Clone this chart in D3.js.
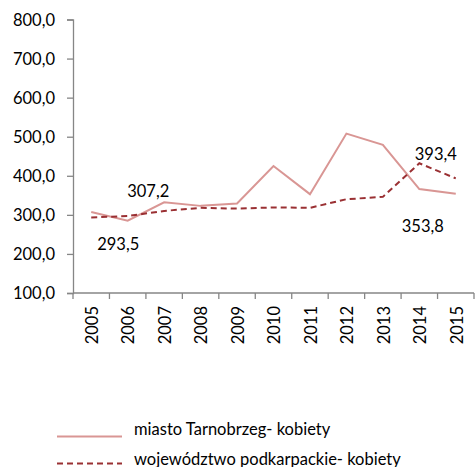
<!DOCTYPE html>
<html>
<head>
<meta charset="utf-8">
<script src="https://cdn.jsdelivr.net/npm/d3@7"></script>
<style>
  html, body { margin: 0; padding: 0; background: #fff; }
  svg { display: block; }
  text { font-family: Lato, "Liberation Sans", sans-serif; fill: #000; }
</style>
</head>
<body>
<svg id="chart" width="475" height="467"></svg>
<script>
// Years on the category axis
const years = ["2005","2006","2007","2008","2009","2010","2011","2012","2013","2014","2015"];
// Tarnobrzeg city, women
const tarnobrzeg = [307.2, 285, 332, 323, 329, 425, 353, 508, 479, 366, 353.8];
// Podkarpackie voivodeship, women
const podkarpackie = [293.5, 297, 310, 318, 316, 319, 318, 340, 346, 432, 393.4];
// Y axis tick values
const yTicks = [100, 200, 300, 400, 500, 600, 700, 800];

const seriesNames = ["miasto Tarnobrzeg- kobiety", "województwo podkarpackie- kobiety"];

const svg = d3.select("#chart");
const plotLeft = 73, plotRight = 474, plotTop = 19.5, plotBottom = 293;
const fontSize = "16.5px";

const x = d3.scaleBand().domain(years).range([plotLeft, plotRight]);
const y = d3.scaleLinear().domain([100, 800]).range([plotBottom, plotTop]);
const fmt = v => d3.format(".1f")(v).replace(".", ",");
const axisColor = "#868686";

// Y axis
const yAxis = svg.append("g").attr("transform", `translate(${plotLeft},0)`)
  .call(d3.axisLeft(y).tickValues(yTicks).tickSize(6).tickFormat(fmt));
yAxis.select(".domain").attr("stroke", axisColor).attr("stroke-width", 1.3);
yAxis.selectAll(".tick line").attr("stroke", axisColor).attr("stroke-width", 1.3);
yAxis.selectAll(".tick text")
  .attr("x", -18).attr("dy", "0.36em")
  .style("font-size", fontSize).style("font-family", "Lato, sans-serif").attr("fill", "#000");

// X axis with ticks on band edges
const xAxisG = svg.append("g").attr("transform", `translate(0,${plotBottom})`);
xAxisG.append("line").attr("x1", plotLeft).attr("x2", plotRight).attr("y1", 0).attr("y2", 0)
  .attr("stroke", axisColor).attr("stroke-width", 1.3);
const edges = years.map(d => x(d)).concat([plotRight]);
xAxisG.selectAll("line.tk").data(edges).join("line").attr("class", "tk")
  .attr("x1", d => d).attr("x2", d => d).attr("y1", 0).attr("y2", 6)
  .attr("stroke", axisColor).attr("stroke-width", 1.3);
xAxisG.selectAll("text.yr").data(years).join("text").attr("class", "yr")
  .attr("transform", d => `translate(${x(d) + x.bandwidth() / 2 + 1},13) rotate(-90)`)
  .attr("text-anchor", "end").attr("dy", "0.35em")
  .style("font-size", fontSize)
  .text(d => d);

// Lines
const line = d3.line().x((d, i) => x(years[i]) + x.bandwidth() / 2).y(d => y(d));
svg.append("path").datum(tarnobrzeg).attr("d", line)
  .attr("fill", "none").attr("stroke", "#D99694").attr("stroke-width", 2);
svg.append("path").datum(podkarpackie).attr("d", line)
  .attr("fill", "none").attr("stroke", "#9A3033").attr("stroke-width", 2)
  .attr("stroke-dasharray", "6,4");

// Data labels for first and last points
const cx = i => x(years[i]) + x.bandwidth() / 2;
const labels = [
  { v: tarnobrzeg[0], x: cx(0) + 57, y: y(tarnobrzeg[0]) - 15 },
  { v: podkarpackie[0], x: cx(0) + 27, y: y(podkarpackie[0]) + 33 },
  { v: podkarpackie[10], x: cx(10) - 20, y: y(podkarpackie[10]) - 18 },
  { v: tarnobrzeg[10], x: cx(10) - 33, y: y(tarnobrzeg[10]) + 38 }
];
svg.selectAll("text.lbl").data(labels).join("text").attr("class", "lbl")
  .attr("x", d => d.x).attr("y", d => d.y)
  .attr("text-anchor", "middle").style("font-size", fontSize)
  .text(d => fmt(d.v));

// Legend
const legend = svg.append("g");
const rows = [
  { name: seriesNames[0], color: "#D99694", dash: null, y: 436.5, base: 435 },
  { name: seriesNames[1], color: "#9A3033", dash: "6,4", y: 463.5, base: 464.5 }
];
rows.forEach(r => {
  legend.append("line").attr("x1", 57).attr("x2", 122).attr("y1", r.y).attr("y2", r.y)
    .attr("stroke", r.color).attr("stroke-width", 2)
    .attr("stroke-dasharray", r.dash);
  legend.append("text").attr("x", 134).attr("y", r.base)
    .style("font-size", fontSize).text(r.name);
});
</script>
</body>
</html>
